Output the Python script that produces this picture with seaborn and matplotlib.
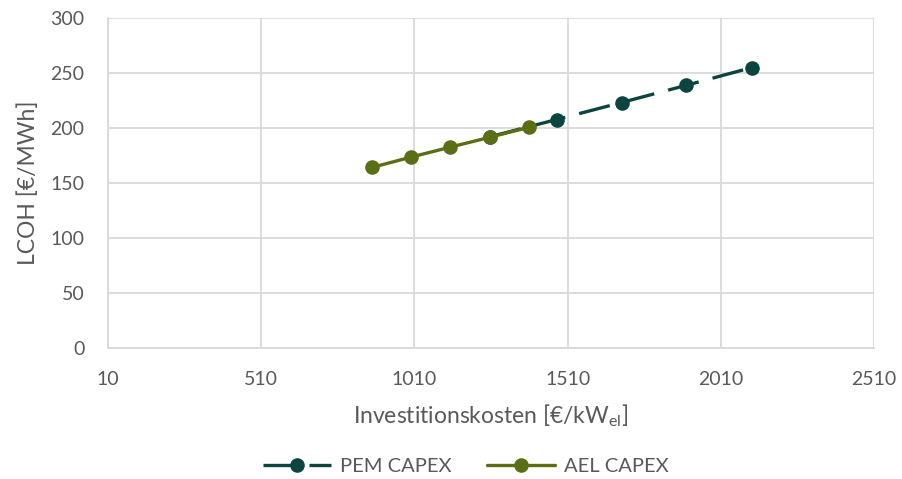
import matplotlib
matplotlib.use("Agg")
import matplotlib.pyplot as plt
import seaborn as sns
import pandas as pd

pem_capex = [1257, 1474, 1686, 1898, 2111]
pem_lcoh = [192.0, 207.6, 223.1, 238.8, 254.9]
ael_capex = [871, 999, 1127, 1257, 1384]
ael_lcoh = [164.0, 173.4, 182.5, 191.5, 200.6]
x_ticks = [10, 510, 1010, 1510, 2010, 2510]
y_ticks = [0, 50, 100, 150, 200, 250, 300]

sns.set_theme(style="white")
plt.rcParams['font.family'] = ['Lato', 'DejaVu Sans']
plt.rcParams['mathtext.fontset'] = 'custom'
plt.rcParams['mathtext.rm'] = 'Lato'

txt = '#595959'
grid = '#d9d9d9'
pem_col = '#0c4540'
ael_col = '#5a6e15'

fig = plt.figure(figsize=(9.03, 4.79), dpi=100)
ax = fig.add_axes([108/903, 1-347.7/479, (874-108)/903, (347.7-18)/479])

sns.lineplot(x=pem_capex, y=pem_lcoh, ax=ax, color=pem_col, marker='o', markersize=10.5,
             markeredgewidth=0, linewidth=2.4, linestyle=(0, (9.5, 4.3)), label='PEM CAPEX')
sns.lineplot(x=ael_capex, y=ael_lcoh, ax=ax, color=ael_col, marker='o', markersize=10.5,
             markeredgewidth=0, linewidth=2.4, label='AEL CAPEX')

ax.set_xlim(10, 2510)
ax.set_ylim(0, 300)
ax.set_xticks(x_ticks)
ax.set_yticks(y_ticks)
ax.grid(True, color=grid, linewidth=1.3)
for s in ['top', 'right']:
    ax.spines[s].set_visible(False)
for s in ['left', 'bottom']:
    ax.spines[s].set_color(grid)
    ax.spines[s].set_linewidth(1.3)
ax.tick_params(axis='x', colors=txt, labelsize=14, length=0, pad=17)
ax.tick_params(axis='y', colors=txt, labelsize=14, length=0, pad=17)
ax.set_xlabel(r'Investitionskosten [€/kW$_{\mathrm{el}}$]', color=txt, fontsize=16.5, labelpad=10)
ax.set_ylabel('LCOH [€/MWh]', color=txt, fontsize=16.5, labelpad=8)

leg = ax.legend(loc='center', bbox_to_anchor=(0.467, -0.36), ncol=2, frameon=False,
                fontsize=14.5, handlelength=3.4, columnspacing=1.75, handletextpad=0.45)
for t in leg.get_texts():
    t.set_color(txt)

fig.savefig('out.png', dpi=100)
